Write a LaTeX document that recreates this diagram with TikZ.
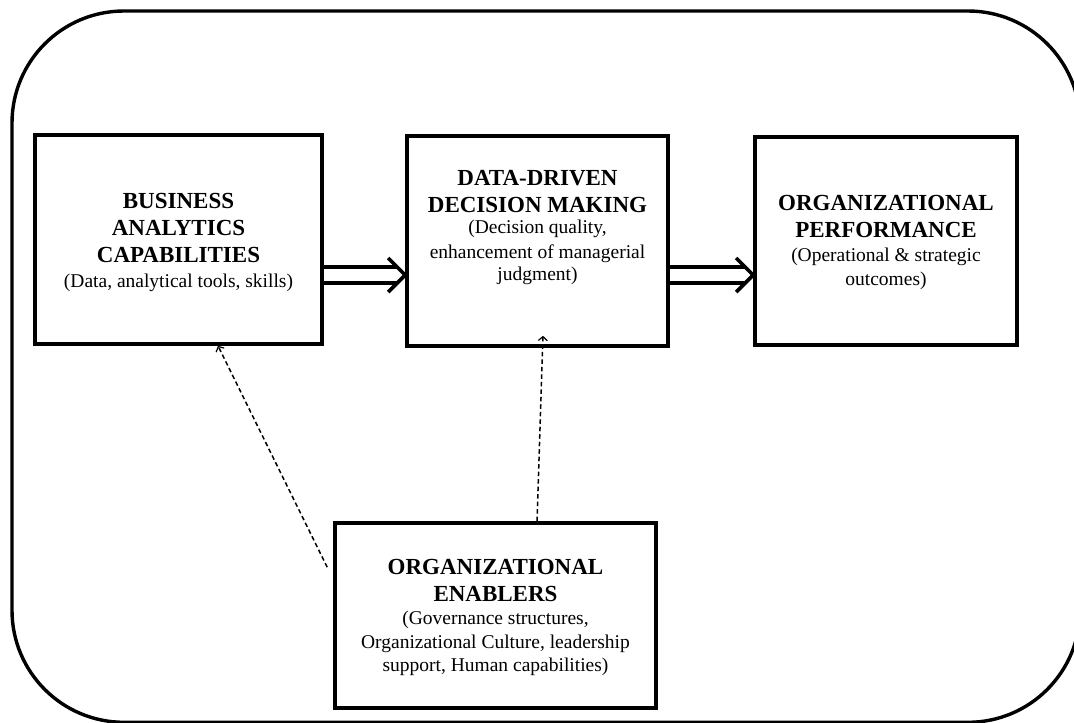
\documentclass[tikz,border=0pt]{standalone}
\usepackage{fontspec}
\setmainfont{Liberation Serif}
\usetikzlibrary{arrows.meta,calc}
\newcommand{\hd}[1]{{\fontsize{23}{27}\selectfont\bfseries #1}}
\begin{document}
\begin{tikzpicture}[x=1pt,y=-1pt,
  box/.style={draw, line width=3.6pt, inner sep=0pt},
  txt/.style={align=center, inner sep=0pt, anchor=north, font=\fontsize{19.5}{24.5}\selectfont},
  dashc/.style={dash pattern=on 4.5pt off 3pt, line width=1.5pt, -{Straight Barb[length=4pt,width=9pt,line width=1.2pt]}},
  dbl/.style={line width=3.6pt},
  chev/.style={line width=3.6pt, line join=miter}]
\useasboundingbox (0,0) rectangle (1074,723);
\begin{scope}
  \clip (0,0) rectangle (1074,723);
  \draw[line width=3.4pt, rounded corners=112pt] (12,11) rectangle (1080,722.3);
\end{scope}

% boxes
\node[box, minimum width=287pt, minimum height=209pt] (b1) at (178.5,239.5) {};
\node[box, minimum width=261pt, minimum height=210pt] (b2) at (537.5,241) {};
\node[box, minimum width=262pt, minimum height=208pt] (b3) at (886,241) {};
\node[box, minimum width=321pt, minimum height=185pt] (b4) at (495.5,615.5) {};

% texts
\node[txt] (t1) at (b1.north |- 0,193) {\hd{BUSINESS}\\[2.5pt]\hd{ANALYTICS}\\[2.5pt]\hd{CAPABILITIES}\\[0.5pt](Data, analytical tools, skills)};
\node[txt] (t2) at (b2.north |- 0,170) {\hd{DATA-DRIVEN}\\[2.5pt]\hd{DECISION MAKING}\\[-3pt](Decision quality,\\enhancement of managerial\\[-2pt]judgment)};
\node[txt] (t3) at (b3.north |- 0,195) {\hd{ORGANIZATIONAL}\\[2.5pt]\hd{PERFORMANCE}\\[-0.5pt](Operational \& strategic\\outcomes)};
\node[txt] (t4) at (b4.north |- 0,559) {\hd{ORGANIZATIONAL}\\[2.5pt]\hd{ENABLERS}\\[-1.5pt](Governance structures,\\Organizational Culture, leadership\\[-1.5pt]support, Human capabilities)};

% double arrow 1
\draw[dbl] (b1.east |- 0,267) -- ($(b2.west |- 0,267)+(-8,0)$);
\draw[dbl] (b1.east |- 0,283) -- ($(b2.west |- 0,283)+(-8,0)$);
\draw[chev] ($(b2.west |- 0,275)+(-17,-17)$) -- (b2.west |- 0,275) -- ($(b2.west |- 0,275)+(-17,17)$);
% double arrow 2
\draw[dbl] (b2.east |- 0,267) -- ($(b3.west |- 0,267)+(-8,0)$);
\draw[dbl] (b2.east |- 0,283) -- ($(b3.west |- 0,283)+(-8,0)$);
\draw[chev] ($(b3.west |- 0,275)+(-17,-17)$) -- (b3.west |- 0,275) -- ($(b3.west |- 0,275)+(-17,17)$);

% dashed connectors
\coordinate (d1) at ($(b4.north west)+(-6,46)$);
\draw[dashc] (d1) -- ($(b1.south)+(39.5,0)$);
\draw[dashc] ($(b4.north)+(41.5,0)$) -- ($(b2.south)+(5.5,-12)$);
\end{tikzpicture}
\end{document}
